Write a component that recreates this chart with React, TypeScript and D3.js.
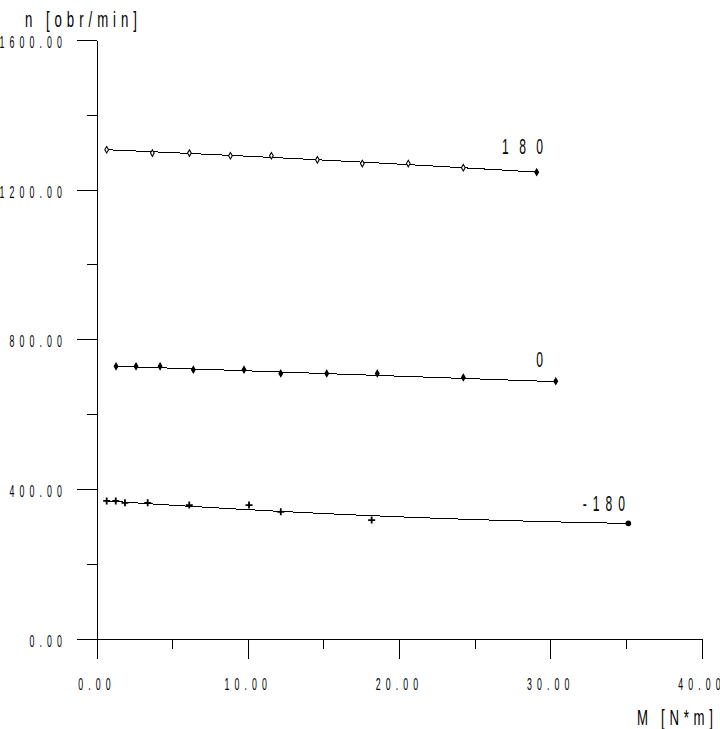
import React from 'react';
import * as d3 from 'd3';

// axis ticks
const xTicksMajor = [0, 10, 20, 30, 40];
const xTicksMinor = [5, 15, 25, 35];
const yTicksMajor = [0, 400, 800, 1200, 1600];
const yTicksMinor = [200, 600, 1000, 1400];

// series (M [N*m], n [obr/min])
const seriesNames = ['180', '0', '-180'];
const m180 = [0.64, 3.66, 6.11, 8.82, 11.53, 14.57, 17.54, 20.58, 24.22, 29.07];
const n180 = [1308, 1299, 1299, 1292, 1292, 1281, 1271, 1271, 1260, 1248];
const m0 = [1.26, 2.58, 4.17, 6.37, 9.72, 12.15, 15.19, 18.53, 24.22, 30.33];
const n0 = [729, 729, 729, 720, 720, 710, 710, 710, 699, 689];
const mNeg = [0.64, 1.24, 1.85, 3.35, 6.1, 10.05, 12.15, 18.16, 35.13];
const nNeg = [369, 369, 364, 364, 358, 358, 340, 318, 309];
const markerKinds = ['diamondOpen', 'diamondFilled', 'plus'];
const lastMarkerKinds = ['diamondFilled', 'diamondFilled', 'dot'];

// fitted curves n = a + b*M + c*M^2
const fitA = [1309.1, 731.0, 370.9];
const fitB = [-1.734, -1.42, -2.812];
const fitC = [-0.0125, 0, 0.0299];

// series label anchor (right end, baseline) in data units
const labelM = [29.49, 29.49, 34.9];
const labelN = [1295.5, 726.5, 342];

const W = 720;
const H = 729;
const FONT = 'Liberation Sans, Arial, sans-serif';

const x = d3.scaleLinear().domain([0, 40]).range([97, 702]);
const y = d3.scaleLinear().domain([0, 1600]).range([639, 40.5]);

function CText(props: any) {
  const { x: tx, y: ty, size, sx, ls = 0, anchor = 'start', len, children } = props;
  return (
    <text
      transform={`translate(${tx},${ty}) scale(${sx},1)`}
      fontSize={size}
      letterSpacing={ls}
      textAnchor={anchor}
      textLength={len ? len / sx : undefined}
      lengthAdjust={len ? 'spacing' : undefined}
      fontFamily={FONT}
      fill="#000"
    >
      {children}
    </text>
  );
}

function Marker({ kind, cx, cy }: { kind: string; cx: number; cy: number }) {
  if (kind === 'plus') {
    return (
      <path
        d={`M${cx - 3.5},${cy}H${cx + 3.5}M${cx},${cy - 3.5}V${cy + 3.5}`}
        stroke="#000"
        strokeWidth={1.8}
        fill="none"
      />
    );
  }
  if (kind === 'dot') {
    return <circle cx={cx} cy={cy} r={2.8} fill="#000" />;
  }
  const p = d3.symbol(d3.symbolDiamond, kind === 'diamondOpen' ? 12 : 12)();
  return (
    <path
      d={p || ''}
      transform={`translate(${cx},${cy})`}
      fill={kind === 'diamondOpen' ? '#fff' : '#000'}
      stroke="#000"
      strokeWidth={1.1}
    />
  );
}

export default function App() {
  const series = [
    { m: m180, n: n180 },
    { m: m0, n: n0 },
    { m: mNeg, n: nNeg },
  ];
  const line = d3
    .line<number[]>()
    .x((d) => x(d[0]))
    .y((d) => y(d[1]));

  const fmt = d3.format('.2f');
  const tickSx = 0.55;
  const tickLs = 9.3;
  const trail = tickLs * tickSx;

  return (
    <svg
      width={W}
      height={H}
      style={{ position: 'absolute', left: 0, top: 0, background: '#fff' }}
    >
      <rect x={0} y={0} width={W} height={H} fill="#fff" />
      <g shapeRendering="crispEdges" stroke="#000" strokeWidth={1}>
        {/* axes */}
        <line x1={x(0)} x2={x(0)} y1={y(1600)} y2={y(0)} />
        <line x1={x(0)} x2={x(40)} y1={y(0)} y2={y(0)} />
        {yTicksMajor.map((t) => (
          <line key={'ym' + t} x1={x(0) - 20} x2={x(0)} y1={y(t)} y2={y(t)} />
        ))}
        {yTicksMinor.map((t) => (
          <line key={'yn' + t} x1={x(0) - 10} x2={x(0)} y1={y(t)} y2={y(t)} />
        ))}
        {xTicksMajor.map((t) => (
          <line key={'xm' + t} x1={x(t)} x2={x(t)} y1={y(0)} y2={y(0) + 20} />
        ))}
        {xTicksMinor.map((t) => (
          <line key={'xn' + t} x1={x(t)} x2={x(t)} y1={y(0)} y2={y(0) + 10} />
        ))}
      </g>

      {/* tick labels */}
      {yTicksMajor.map((t) => (
        <CText key={'yl' + t} x={62 + trail} y={y(t) + 7.5} size={16} sx={tickSx} ls={tickLs} anchor="end">
          {fmt(t)}
        </CText>
      ))}
      {xTicksMajor.map((t) => (
        <CText key={'xl' + t} x={x(t)} y={690} size={16} sx={tickSx} ls={tickLs} anchor="middle">
          {fmt(t)}
        </CText>
      ))}

      {/* axis titles */}
      <CText x={25} y={27} size={22} sx={0.6} len={112}>
        n [obr/min]
      </CText>
      <CText x={637} y={725} size={22} sx={0.6} len={76}>
        M [N*m]
      </CText>

      {/* fitted curves */}
      <g shapeRendering="crispEdges" fill="none" stroke="#000" strokeWidth={1}>
        {series.map((s, i) => {
          const m1 = s.m[0];
          const m2 = s.m[s.m.length - 1];
          const pts = d3.range(m1, m2, 0.25).concat([m2]).map((m) => [m, fitA[i] + fitB[i] * m + fitC[i] * m * m]);
          return <path key={'f' + i} d={line(pts) || ''} />;
        })}
      </g>

      {/* markers */}
      {series.map((s, i) =>
        s.m.map((m, j) => (
          <Marker
            key={'mk' + i + '-' + j}
            kind={j === s.m.length - 1 ? lastMarkerKinds[i] : markerKinds[i]}
            cx={x(m)}
            cy={y(s.n[j])}
          />
        ))
      )}

      {/* series labels */}
      {seriesNames.map((name, i) => (
        <CText
          key={'sl' + i}
          x={x(labelM[i])}
          y={y(labelN[i])}
          size={22}
          sx={0.55}
          anchor="end"
          len={name.length > 1 ? (name.length === 3 ? 41 : 42) : undefined}
        >
          {name}
        </CText>
      ))}
    </svg>
  );
}
